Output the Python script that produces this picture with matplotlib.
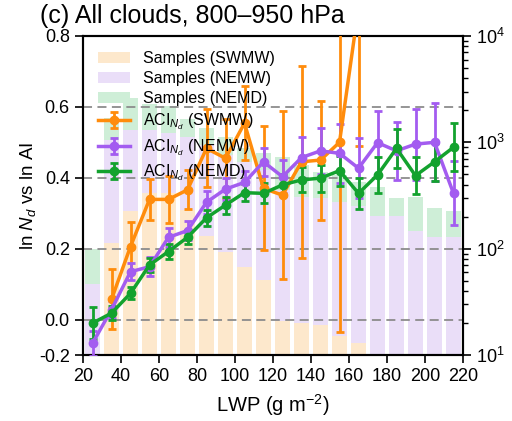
import numpy as np
import matplotlib
matplotlib.use("Agg")
import matplotlib.pyplot as plt
from matplotlib.ticker import LogLocator, NullFormatter

plt.rcParams['font.family'] = ['Liberation Sans', 'DejaVu Sans']
plt.rcParams['mathtext.fontset'] = 'custom'
plt.rcParams['mathtext.rm'] = 'Liberation Sans'
plt.rcParams['mathtext.it'] = 'Liberation Sans:italic'
plt.rcParams['mathtext.bf'] = 'Liberation Sans:bold'

# LWP bin centres (g m-2)
lwp = np.arange(25, 220, 10)

# Sample counts per LWP bin
samples_swmw = [0, 113, 226, 334, 334, 231, 131, 93, 66, 50,
                20, 19, 18, 14, 12, 0, 0, 0, 0, 0]
samples_nemw = [46, 1052, 1306, 1306, 1225, 1122, 944, 760, 653, 549,
                357, 306, 300, 275, 252, 203, 203, 147, 129, 129]
samples_nemd = [99, 1694, 2612, 2294, 2198, 1660, 1366, 1122, 885, 794,
                728, 612, 526, 493, 424, 380, 300, 306, 241, 226]

# ACI (d ln Nd / d ln AI) and its uncertainty per LWP bin
aci_swmw = [np.nan, 0.057, 0.206, 0.339, 0.339, 0.366, 0.483, 0.455, 0.554, 0.370,
            0.351, 0.445, 0.450, 0.500, 0.880, np.nan, np.nan, np.nan, np.nan, np.nan]
err_swmw = [np.nan, 0.085, 0.070, 0.057, 0.066, 0.055, 0.110, 0.112, 0.105, 0.175,
            0.237, 0.270, 0.168, 0.535, 0.390, np.nan, np.nan, np.nan, np.nan, np.nan]

aci_nemw = [-0.067, 0.028, 0.135, 0.149, 0.232, 0.251, 0.331, 0.368, 0.387, 0.445,
            0.403, 0.457, 0.476, 0.469, 0.427, 0.499, 0.476, 0.495, 0.500, 0.356]
err_nemw = [0.035, 0.025, 0.024, 0.027, 0.027, 0.026, 0.033, 0.032, 0.032, 0.040,
            0.047, 0.058, 0.065, 0.083, 0.085, 0.090, 0.082, 0.100, 0.110, 0.090]

aci_nemd = [-0.010, 0.018, 0.074, 0.154, 0.192, 0.232, 0.287, 0.323, 0.358, 0.356,
            0.380, 0.394, 0.399, 0.420, 0.356, 0.408, 0.483, 0.406, 0.445, 0.486]
err_nemd = [0.045, 0.020, 0.017, 0.020, 0.020, 0.020, 0.022, 0.024, 0.024, 0.028,
            0.030, 0.035, 0.038, 0.042, 0.043, 0.050, 0.055, 0.052, 0.054, 0.068]

xticks = list(range(20, 221, 20))
yticks = [-0.1, 0.0, 0.2, 0.4, 0.6, 0.8]
ytick_labels = ['-0.2', '0.0', '0.2', '0.4', '0.6', '0.8']

c_line = {'SWMW': '#ff8c0c', 'NEMW': '#a35cf0', 'NEMD': '#13a22e'}
c_bar = {'SWMW': '#fde8cc', 'NEMW': '#eadef8', 'NEMD': '#ceeed7'}

fig = plt.figure(figsize=(5.12, 4.21), dpi=100)
ax = fig.add_axes([83/512, 1-355/421, 380/512, 319/421])
ax2 = ax.twinx()

# Sample-count bars on the logarithmic right axis
bw = 8.4
b_nemd = ax2.bar(lwp, samples_nemd, width=bw, color=c_bar['NEMD'], label='Samples (NEMD)', bottom=1)
b_nemw = ax2.bar(lwp, samples_nemw, width=bw, color=c_bar['NEMW'], label='Samples (NEMW)', bottom=1)
b_swmw = ax2.bar(lwp, np.where(np.array(samples_swmw) > 0, samples_swmw, np.nan),
                 width=bw, color=c_bar['SWMW'], label='Samples (SWMW)', bottom=1)
ax2.set_yscale('log')
ax2.set_ylim(10, 1e4)
ax2.yaxis.set_major_locator(LogLocator(base=10, numticks=10))
ax2.yaxis.set_minor_locator(LogLocator(base=10, subs=np.arange(2, 10), numticks=10))
ax2.yaxis.set_minor_formatter(NullFormatter())
ax2.tick_params(axis='y', which='major', labelsize=13, length=6, width=1.2)
ax2.tick_params(axis='y', which='minor', length=3.5, width=1.0)

# ACI lines on the left axis, drawn above the bars
ax.set_zorder(ax2.get_zorder() + 1)
ax.patch.set_visible(False)

ax.set_xlim(20, 220)
ax.set_ylim(-0.1, 0.8)
ax.set_yticks(yticks)
ax.set_yticklabels(ytick_labels)
ax.set_xticks(xticks)
for y in [0.0, 0.2, 0.4, 0.6]:
    ax.axhline(y, color='#8c8c8c', linestyle=(0, (5, 3)), linewidth=1.3, zorder=1)

handles = []
for name, vals, errs in [('SWMW', aci_swmw, err_swmw),
                         ('NEMW', aci_nemw, err_nemw),
                         ('NEMD', aci_nemd, err_nemd)]:
    h = ax.errorbar(lwp, vals, yerr=errs, color=c_line[name], marker='o',
                    markersize=6, linewidth=2.5, elinewidth=2.0, capsize=3,
                    capthick=2.0, zorder=3,
                    label=r'ACI$_{N_d}$ (' + name + ')')
    handles.append(h)

ax.tick_params(axis='both', labelsize=13, length=6, width=1.2)
ax2.tick_params(axis='y', labelsize=13)
for sp in list(ax.spines.values()) + list(ax2.spines.values()):
    sp.set_linewidth(1.5)

ax.set_xlabel(r'LWP (g m$^{-2}$)', fontsize=14.5, labelpad=5)
ax.set_ylabel(r'ln $N_d$ vs ln AI', fontsize=13.5, labelpad=1)

ax.legend([b_swmw, b_nemw, b_nemd] + handles,
          ['Samples (SWMW)', 'Samples (NEMW)', 'Samples (NEMD)'] + [h.get_label() for h in handles],
          loc='upper left', frameon=False, fontsize=11.5, labelspacing=0.32,
          handlelength=2.0, borderaxespad=0.55)

fig.text(40/512, 1-16/421, '(c) All clouds, 800\u2013950 hPa', fontsize=18,
         ha='left', va='center')

fig.savefig('out.png', dpi=100)
